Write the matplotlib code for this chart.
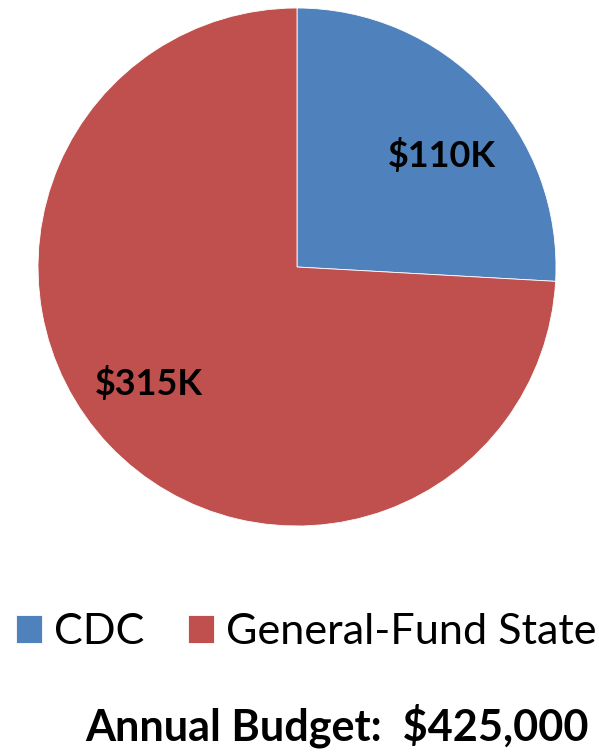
import matplotlib
matplotlib.use("Agg")
import matplotlib.pyplot as plt

# budget split, in thousands of dollars
sources = ["CDC", "General-Fund State"]
amounts = [110, 315]
slice_labels = ["$110K", "$315K"]
colors = ["#4F81BD", "#C0504D"]
total_text = "Annual Budget:  $425,000"

plt.rcParams["font.family"] = ["Lato", "DejaVu Sans"]

W, H = 599, 753
fig = plt.figure(figsize=(W / 100, H / 100), dpi=100)
renderer = fig.canvas.get_renderer()


def size_for_width(text, width_px, weight="normal"):
    # font size (pt) that makes `text` about width_px wide
    t = fig.text(0, 0, text, fontsize=20, fontweight=weight)
    w = t.get_window_extent(renderer).width
    t.remove()
    return 20 * width_px / w


ax = fig.add_axes([38 / W, 227 / H, 518 / W, 518 / H])
wedges, _ = ax.pie(amounts, colors=colors, startangle=90, counterclock=False,
                   radius=1.0, wedgeprops={"edgecolor": "white", "linewidth": 0.6})
ax.set_xlim(-1, 1)
ax.set_ylim(-1, 1)
ax.set_aspect("equal")

# slice value labels
lbl_fs = size_for_width(slice_labels[1], 108, "bold")
fig.text(442 / W, 1 - 156 / H, slice_labels[0], ha="center", va="center",
         fontsize=lbl_fs, fontweight="bold")
fig.text(149 / W, 1 - 383 / H, slice_labels[1], ha="center", va="center",
         fontsize=lbl_fs, fontweight="bold")

leg_fs = size_for_width(sources[1], 372)
px = leg_fs * 100 / 72  # pixels per em
fig.legend(wedges, sources, loc="center left", bbox_to_anchor=(16 / W, 1 - 632 / H),
           ncol=2, frameon=False, fontsize=leg_fs, borderpad=0, borderaxespad=0,
           handlelength=26 / px, handleheight=26 / px,
           handletextpad=12 / px, columnspacing=44 / px)

title_fs = size_for_width(total_text, 504, "bold")
fig.text(589 / W, 1 - 740 / H, total_text, ha="right", va="baseline",
         fontsize=title_fs, fontweight="bold")

fig.savefig("out.png", dpi=100)
